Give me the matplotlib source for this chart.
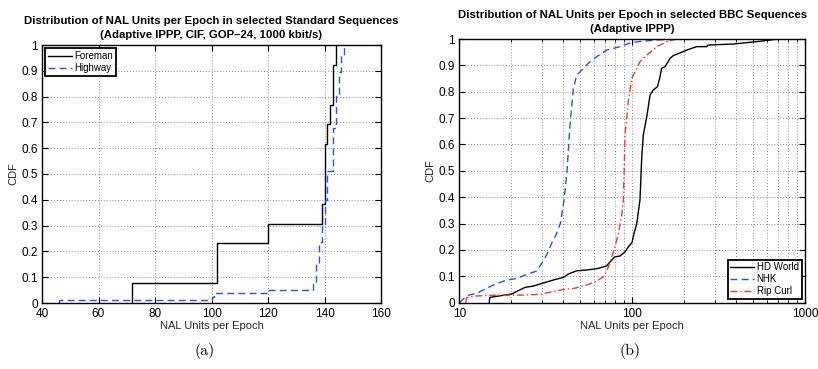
import matplotlib
matplotlib.use("Agg")
import matplotlib.pyplot as plt
from matplotlib.ticker import FuncFormatter, FixedLocator, NullFormatter

plt.rcParams['font.family'] = ['Liberation Sans', 'DejaVu Sans']

# ---- (a) standard sequences: empirical CDF step points ----
foreman_x = [72, 102, 120, 139, 140, 141, 142, 143, 144]
foreman_cdf = [0.077, 0.231, 0.308, 0.385, 0.615, 0.692, 0.769, 0.923, 1.0]

highway_x = [46, 100, 101, 120, 136, 137, 138, 139, 140, 141, 142, 143, 144, 145, 146, 147]
highway_cdf = [0.012, 0.025, 0.037, 0.049, 0.075, 0.15, 0.236, 0.30, 0.40, 0.51, 0.51,
               0.68, 0.81, 0.895, 0.966, 1.0]

# ---- (b) BBC sequences ----
hdworld_x = [14.9, 15.0, 16.0, 20.1, 22.0, 24.0, 26.8, 30.0, 35.0, 40.0, 42.8, 47.8,
             54.6, 62.4, 71.0, 74.5, 79.5, 85.0, 91.0, 95.0, 99.8, 102.6, 106.4, 111.0,
             113.6, 116.0, 121.5, 127.0, 132.7, 140.0, 145.0, 148.0, 155.0, 166.0, 173.0,
             207.0, 236.0, 270.0, 275.0, 385.0, 526.0, 628.0, 700.0]
hdworld_cdf = [0.0, 0.02, 0.023, 0.033, 0.046, 0.058, 0.063, 0.073, 0.086, 0.096, 0.109,
               0.121, 0.124, 0.129, 0.139, 0.155, 0.174, 0.177, 0.193, 0.212, 0.228, 0.263,
               0.301, 0.39, 0.55, 0.636, 0.705, 0.788, 0.807, 0.819, 0.857, 0.889, 0.895,
               0.927, 0.937, 0.958, 0.971, 0.971, 0.977, 0.981, 0.99, 0.996, 1.0]

nhk_x = [10.0, 10.8, 11.5, 12.6, 14.4, 16.5, 18.8, 21.5, 24.5, 28.0, 30.0, 32.0, 34.2,
         36.6, 38.4, 40.4, 42.0, 43.7, 45.7, 47.8, 52.2, 57.0, 62.4, 71.3, 85.1, 99.5,
         116.0, 145.0, 236.0]
nhk_cdf = [0.0, 0.02, 0.03, 0.035, 0.055, 0.073, 0.086, 0.092, 0.107, 0.12, 0.149, 0.181,
           0.225, 0.263, 0.30, 0.39, 0.50, 0.674, 0.813, 0.863, 0.889, 0.914, 0.933, 0.958,
           0.971, 0.987, 0.992, 0.997, 1.0]

ripcurl_x = [10.9, 11.0, 12.1, 15.0, 23.5, 29.3, 40.0, 45.8, 54.6, 62.4, 68.4, 73.0, 76.3,
             79.5, 83.3, 87.3, 89.0, 91.0, 95.0, 99.5, 106.4, 111.0, 121.5, 139.0, 158.5,
             181.0]
ripcurl_cdf = [0.0, 0.018, 0.025, 0.028, 0.029, 0.032, 0.05, 0.054, 0.067, 0.082, 0.099,
               0.137, 0.174, 0.212, 0.263, 0.339, 0.39, 0.636, 0.762, 0.851, 0.889, 0.914,
               0.939, 0.971, 0.99, 1.0]

W, H = 818, 369
fig = plt.figure(figsize=(W / 100, H / 100), dpi=100)

ax1 = fig.add_axes([42 / W, 1 - 303 / H, (381 - 42) / W, (303 - 45) / H])
ax2 = fig.add_axes([459.3 / W, 1 - 302.7 / H, (805 - 459.3) / W, (302.7 - 39) / H])

grid_kw = dict(color='0.4', linestyle=(0, (1, 2.5)), linewidth=0.6)
fmt_y = FuncFormatter(lambda v, p: '%g' % round(v, 2))
blue = '#2a4df5'
red = '#f03a25'

# (a)
ax1.step([foreman_x[0]] + foreman_x, [0] + foreman_cdf, where='post',
         color='black', linewidth=1.0, label='Foreman')
ax1.step([highway_x[0]] + highway_x, [0] + highway_cdf, where='post',
         color=blue, linewidth=1.0, linestyle=(0, (5, 3)), label='Highway')
ax1.set_xlim(40, 160)
ax1.set_ylim(0, 1)
ax1.set_xticks(range(40, 161, 20))
ax1.set_yticks([i / 10 for i in range(11)])
ax1.yaxis.set_major_formatter(fmt_y)
ax1.grid(True, **grid_kw)
ax1.set_title('Distribution of NAL Units per Epoch in selected Standard Sequences\n'
              '(Adaptive IPPP, CIF, GOP\u201324, 1000 kbit/s)',
              fontsize=8.2, fontweight='bold', pad=5, linespacing=1.45)
ax1.set_xlabel('NAL Units per Epoch', fontsize=8, labelpad=1, color='0.15')
ax1.set_ylabel('CDF', fontsize=8, labelpad=2, color='0.15')
leg1 = ax1.legend(loc='upper left', fontsize=7, handlelength=2.4, borderaxespad=0.35,
                  fancybox=False, framealpha=1, edgecolor='black', borderpad=0.3,
                  labelspacing=0.2, handletextpad=0.3)
leg1.get_frame().set_linewidth(1.3)

# (b)
ax2.plot(hdworld_x, hdworld_cdf, color='black', linewidth=1.0, label='HD World')
ax2.plot(nhk_x, nhk_cdf, color=blue, linewidth=1.0, linestyle=(0, (5, 3)), label='NHK')
ax2.plot(ripcurl_x, ripcurl_cdf, color=red, linewidth=1.0,
         linestyle=(0, (5, 2, 1, 2)), label='Rip Curl')
ax2.set_xscale('log')
ax2.set_xlim(10, 1000)
ax2.set_ylim(0, 1)
ax2.xaxis.set_major_locator(FixedLocator([10, 100, 1000]))
ax2.xaxis.set_major_formatter(FuncFormatter(lambda v, p: '%d' % v))
ax2.xaxis.set_minor_locator(FixedLocator([k * 10 for k in range(2, 10)] +
                                         [k * 100 for k in range(2, 10)]))
ax2.xaxis.set_minor_formatter(NullFormatter())
ax2.set_yticks([i / 10 for i in range(11)])
ax2.yaxis.set_major_formatter(fmt_y)
ax2.grid(True, which='both', **grid_kw)
ax2.set_title('Distribution of NAL Units per Epoch in selected BBC Sequences\n'
              '(Adaptive IPPP)', fontsize=8.2, fontweight='bold', pad=5, linespacing=1.45)
ax2.set_xlabel('NAL Units per Epoch', fontsize=8, labelpad=1, color='0.15')
ax2.set_ylabel('CDF', fontsize=8, labelpad=2, color='0.15')
leg2 = ax2.legend(loc='lower right', fontsize=7, handlelength=2.4, borderaxespad=0.35,
                  fancybox=False, framealpha=1, edgecolor='black', borderpad=0.3,
                  labelspacing=0.2, handletextpad=0.3)
leg2.get_frame().set_linewidth(1.3)

for ax in (ax1, ax2):
    ax.set_axisbelow(True)
    for s in ax.spines.values():
        s.set_linewidth(1.0)
    ax.tick_params(which='major', direction='in', length=4, width=0.8,
                   top=True, right=True, labelsize=8.5)
    ax.tick_params(axis='x', which='major', pad=3.5)
    ax.tick_params(axis='y', which='major', pad=3)
    ax.tick_params(which='minor', direction='in', length=2, width=0.6,
                   top=True, right=True)

fig.text(205 / W, 1 - 351 / H, '(a)', fontname='cmr10', fontsize=11.5,
         ha='center', va='center')
fig.text(630 / W, 1 - 351 / H, '(b)', fontname='cmr10', fontsize=11.5,
         ha='center', va='center')

fig.savefig('out.png', dpi=100)
